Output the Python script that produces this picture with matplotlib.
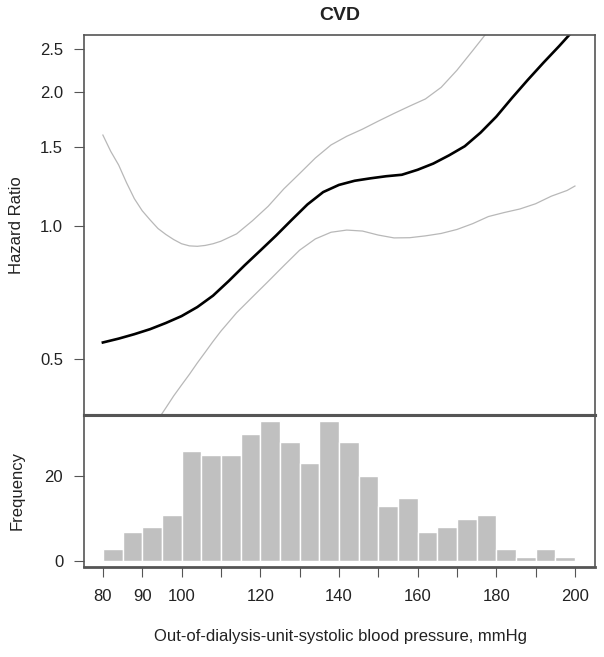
import matplotlib
matplotlib.use("Agg")
import matplotlib.pyplot as plt
from matplotlib.ticker import FixedLocator, FixedFormatter, NullLocator

plt.rcParams['font.family'] = ['Liberation Sans', 'DejaVu Sans']

# spline estimate of hazard ratio
sbp_hr = [80, 84, 88, 92, 96, 100, 104, 108, 112, 116, 120, 124, 128, 132,
          136, 140, 144, 148, 152, 156, 160, 164, 168, 172, 176, 180, 184,
          188, 192, 196, 200]
hr = [0.545, 0.556, 0.569, 0.584, 0.603, 0.625, 0.655, 0.695, 0.750, 0.813,
      0.878, 0.949, 1.030, 1.116, 1.190, 1.235, 1.262, 1.278, 1.292, 1.302,
      1.336, 1.380, 1.440, 1.510, 1.620, 1.760, 1.940, 2.130, 2.330, 2.540,
      2.780]

# upper 95% CI
sbp_up = [80, 82, 84, 86, 88, 90, 92, 94, 96, 98, 100, 102, 104, 106, 108,
          110, 114, 118, 122, 126, 130, 134, 138, 142, 146, 150, 154, 158,
          162, 166, 170, 174, 178]
hr_up = [1.600, 1.470, 1.370, 1.250, 1.150, 1.080, 1.030, 0.985, 0.955,
         0.930, 0.910, 0.900, 0.898, 0.902, 0.910, 0.922, 0.958, 1.025,
         1.105, 1.210, 1.310, 1.420, 1.520, 1.590, 1.650, 1.720, 1.790,
         1.860, 1.930, 2.050, 2.240, 2.480, 2.750]

# lower 95% CI
sbp_lo = [94, 96, 98, 100, 102, 104, 106, 108, 110, 114, 118, 122, 126, 130,
          134, 138, 142, 146, 150, 154, 158, 162, 166, 170, 174, 178, 182,
          186, 190, 194, 198, 200]
hr_lo = [0.365, 0.388, 0.413, 0.437, 0.462, 0.490, 0.518, 0.548, 0.578,
         0.636, 0.690, 0.748, 0.812, 0.880, 0.933, 0.966, 0.977, 0.972,
         0.952, 0.938, 0.939, 0.948, 0.960, 0.980, 1.010, 1.048, 1.070,
         1.090, 1.120, 1.165, 1.200, 1.228]

# histogram of out-of-dialysis-unit SBP (5 mmHg bins)
bin_left = list(range(80, 200, 5))
freq = [3, 7, 8, 11, 26, 25, 25, 30, 33, 28, 23, 33, 28, 20, 13, 15, 7, 8,
        10, 11, 3, 1, 3, 1]

hr_ticks = [0.5, 1.0, 1.5, 2.0, 2.5]
x_ticks = list(range(80, 201, 10))
x_labels = ['80', '90', '100', '', '120', '', '140', '', '160', '', '180', '', '200']

frame = '#555555'
txt = '#222222'

fig = plt.figure(figsize=(6.04, 6.57), dpi=100)
ax = fig.add_axes([84 / 604, 1 - 415 / 657, 511 / 604, 380 / 657])
axh = fig.add_axes([84 / 604, 1 - 567 / 657, 511 / 604, 152 / 657])

# upper panel
ax.plot(sbp_up, hr_up, color='#b8b8b8', lw=0.9)
ax.plot(sbp_lo, hr_lo, color='#b8b8b8', lw=0.9)
ax.plot(sbp_hr, hr, color='black', lw=1.9)
ax.set_yscale('log')
ax.set_xlim(75.2, 205.1)
ax.set_ylim(0.374, 2.69)
ax.yaxis.set_major_locator(FixedLocator(hr_ticks))
ax.yaxis.set_major_formatter(FixedFormatter(['%.1f' % t for t in hr_ticks]))
ax.yaxis.set_minor_locator(NullLocator())
ax.xaxis.set_major_locator(NullLocator())
ax.tick_params(axis='y', length=7, width=0.8, color=frame, pad=8,
               labelsize=12, labelcolor=txt)
for side, sp in ax.spines.items():
    sp.set_color(frame)
    sp.set_linewidth(1.2)
ax.spines['bottom'].set_linewidth(2.2)

# histogram panel
axh.bar(bin_left, freq, width=5, align='edge', color='#c0c0c0',
        edgecolor='white', linewidth=1.0)
axh.set_xlim(75.2, 205.1)
axh.set_ylim(-1.34, 34.4)
axh.set_yticks([0, 20])
axh.set_xticks(x_ticks)
axh.set_xticklabels(x_labels)
axh.tick_params(axis='y', length=7, width=0.8, color=frame, pad=8,
                labelsize=12, labelcolor=txt)
axh.tick_params(axis='x', length=7, width=0.8, color=frame, pad=9,
                labelsize=12, labelcolor=txt)
for side, sp in axh.spines.items():
    sp.set_color(frame)
    sp.set_linewidth(1.2)
axh.spines['top'].set_linewidth(2.2)
axh.spines['bottom'].set_linewidth(2.0)

fig.text(340 / 604, 1 - 15 / 657, 'CVD', ha='center', va='center',
         fontsize=14, fontweight='bold', color=txt)
fig.text(17 / 604, 1 - 225 / 657, 'Hazard Ratio', rotation=90, ha='center',
         va='center', fontsize=12, color=txt)
fig.text(17 / 604, 1 - 491 / 657, 'Frequency', rotation=90, ha='center',
         va='center', fontsize=12, color=txt)
fig.text(340 / 604, 1 - 637 / 657,
         'Out-of-dialysis-unit-systolic blood pressure, mmHg',
         ha='center', va='center', fontsize=12, color=txt)

fig.savefig('out.png', dpi=100)
